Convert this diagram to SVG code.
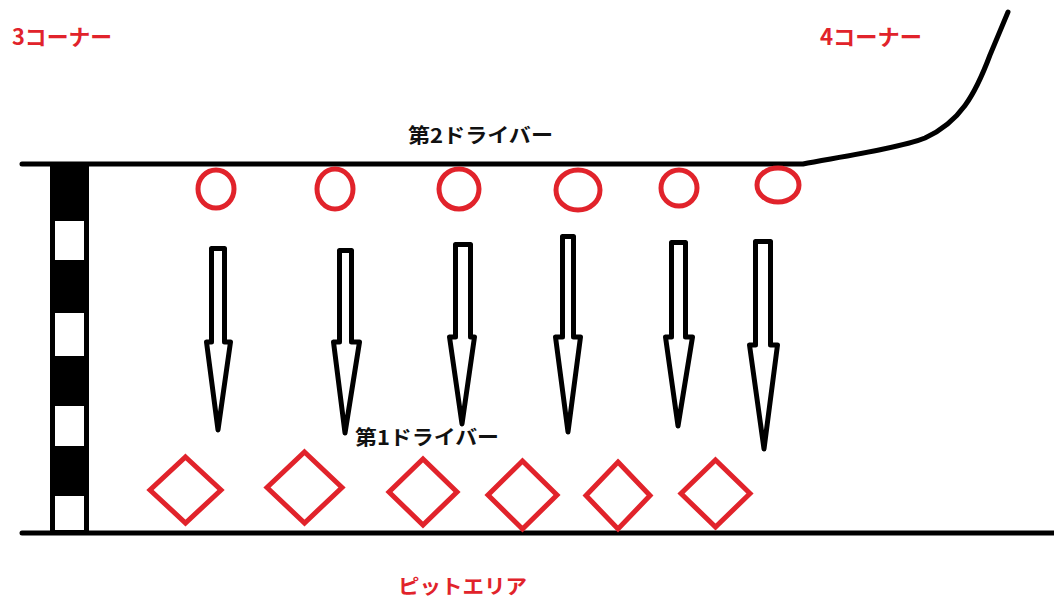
<svg xmlns="http://www.w3.org/2000/svg" width="1054" height="599" viewBox="0 0 1054 599">
<defs>
<style>
.track{fill:none;stroke:#000;stroke-width:5;stroke-linecap:round;stroke-linejoin:round}
.car2{fill:none;stroke:#e1232b;stroke-width:5}
.car1{fill:none;stroke:#e1232b;stroke-width:5;stroke-linejoin:miter}
.arrow{fill:#fff;stroke:#000;stroke-width:5;stroke-linejoin:round}
.lbl{font-family:"Noto Sans CJK JP","Noto Sans",sans-serif;font-weight:bold}
.red{fill:#e1232b}
.blk{fill:#111}
</style>
</defs>
<rect x="0" y="0" width="1054" height="599" fill="#fff"/>

<g id="track">
<path class="track" d="M22,164 L803,164 C840,157 900,148 925,138 C960,122 975,95 990,55 L1008,12"/>
<path class="track" d="M22,533 L1054,533"/>
</g>

<g id="checker">
<rect x="50" y="164" width="39" height="369" fill="#000"/>
<rect x="55" y="221" width="29" height="39" fill="#fff"/>
<rect x="55" y="313" width="29" height="43" fill="#fff"/>
<rect x="55" y="406" width="29" height="40" fill="#fff"/>
<rect x="55" y="496" width="29" height="34" fill="#fff"/>
</g>

<g id="second-drivers">
<ellipse id="c1" class="car2" cx="216" cy="189" rx="18" ry="19"/>
<ellipse id="c2" class="car2" cx="335" cy="189" rx="18" ry="20"/>
<ellipse id="c3" class="car2" cx="459" cy="189" rx="20" ry="20"/>
<ellipse id="c4" class="car2" cx="578" cy="190" rx="22" ry="20"/>
<ellipse id="c5" class="car2" cx="679" cy="188" rx="18" ry="18"/>
<ellipse id="c6" class="car2" cx="778" cy="185" rx="21" ry="17"/>
</g>

<g id="connectors">
<polygon class="arrow" points="211.5,248.5 224.5,248.5 224.5,342 230.5,342 218,430 206.5,342 211.5,342"/>
<polygon class="arrow" points="339.5,250.5 351.5,250.5 351.5,342 359.5,342 345,433 333.5,342 339.5,342"/>
<polygon class="arrow" points="455.5,244.5 470.5,244.5 470.5,337 474.5,337 462,424 449.5,337 455.5,337"/>
<polygon class="arrow" points="562.5,236.5 573.5,236.5 573.5,337 580.5,337 568,432 555.5,337 562.5,337"/>
<polygon class="arrow" points="671.5,242.5 685.5,242.5 685.5,337 692.5,337 678,426 665.5,337 671.5,337"/>
<polygon class="arrow" points="755.5,241.5 770.5,241.5 770.5,345 777.5,345 764,449 749.5,345 755.5,345"/>
</g>

<g id="first-drivers">
<polygon id="d1" class="car1" points="185.5,457 221,490 185.5,523 150,490"/>
<polygon id="d2" class="car1" points="304.5,452 342,487.5 304.5,523 267,487.5"/>
<polygon id="d3" class="car1" points="423,459 457,492 423,525 389,492"/>
<polygon id="d4" class="car1" points="522.5,461 557,495 522.5,529 488,495"/>
<polygon id="d5" class="car1" points="618,462 650,495.5 618,529 586,495.5"/>
<polygon id="d6" class="car1" points="715.5,460 750,493.5 715.5,527 681,493.5"/>
</g>

<g id="labels">
<text id="t-3corner" class="lbl red" x="12" y="45" font-size="22" textLength="100" lengthAdjust="spacingAndGlyphs">3コーナー</text>
<text id="t-4corner" class="lbl red" x="820" y="45" font-size="22" textLength="102" lengthAdjust="spacingAndGlyphs">4コーナー</text>
<text id="t-driver2" class="lbl blk" x="408" y="143" font-size="20" textLength="145" lengthAdjust="spacingAndGlyphs">第2ドライバー</text>
<text id="t-driver1" class="lbl blk" x="355" y="445" font-size="20" textLength="144" lengthAdjust="spacingAndGlyphs">第1ドライバー</text>
<text id="t-pit" class="lbl red" x="398" y="594" font-size="20" textLength="129" lengthAdjust="spacingAndGlyphs">ピットエリア</text>
</g>
</svg>
